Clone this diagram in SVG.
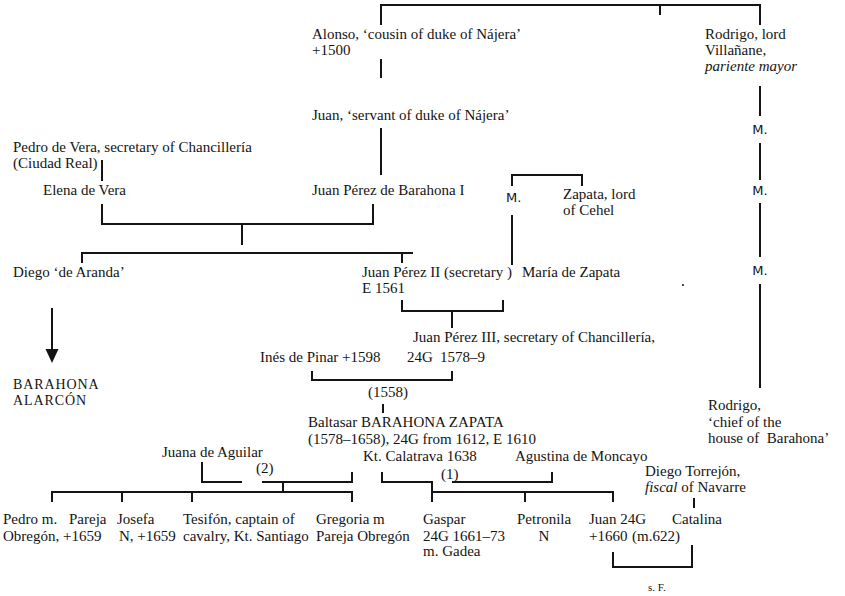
<svg xmlns="http://www.w3.org/2000/svg" width="845" height="596" viewBox="0 0 845 596">
<defs>
<style>
text{font-family:"Liberation Serif","Times New Roman",serif;font-size:15px;fill:#141414}
.it{font-style:italic}
.m{font-family:"DejaVu Sans","Liberation Sans",sans-serif;font-size:13px}
.caps{font-size:14px;letter-spacing:0.9px}
.sm{font-size:11px}
#links path{fill:none;stroke:#141414;stroke-width:2}
</style>
</defs>
<rect width="845" height="596" fill="#fff"/>

<!-- lines of descent and marriage -->
<g id="links">
<path d="M381,25V5H760V25M660,5V15"/>
<path d="M381,59V78"/>
<path d="M381,128V175"/>
<path d="M760,86V116M760,143V180M760,203V257M760,284V388"/>
<path d="M102,160V181"/>
<path d="M102,204V224H373V204M242,224V245"/>
<path d="M82,263V253H413M402,253V263"/>
<path d="M512,186V175H582V186"/>
<path d="M512,215V265"/>
<path d="M402,300V311H503V300M452,311V328"/>
<path d="M312,371V380H452V371"/>
<path d="M383,404V413"/>
<path d="M202,462V482H242M262,482H352V472M283,482V492"/>
<path d="M52,502V492H352V502M122,492V502M192,492V502"/>
<path d="M382,472V482H432V502M452,482H552V472"/>
<path d="M432,492H613V502M525,492V502"/>
<path d="M694,498V508"/>
<path d="M613,552V567H692V545"/>
<path d="M52,308V350"/>
<polygon points="45.5,349 58.5,349 52,363" fill="#141414"/>
</g>

<g id="alonso"><text x="312" y="39">Alonso, ‘cousin of duke of Nájera’</text><text x="312" y="55">+1500</text></g>
<g id="rodrigo-lord"><text x="705" y="39">Rodrigo, lord</text><text x="705" y="55">Villañane,</text><text x="705" y="71" class="it">pariente mayor</text></g>
<g id="juan-servant"><text x="312" y="120">Juan, ‘servant of duke of Nájera’</text></g>
<g id="m-line"><text class="m" x="760" y="134" text-anchor="middle">M.</text><text class="m" x="760" y="195" text-anchor="middle">M.</text><text class="m" x="760" y="275" text-anchor="middle">M.</text></g>
<g id="pedro-vera"><text x="13" y="152">Pedro de Vera, secretary of Chancillería</text><text x="13" y="168">(Ciudad Real)</text></g>
<g id="elena-vera"><text x="43" y="195">Elena de Vera</text></g>
<g id="juan-perez-1"><text x="312" y="195">Juan Pérez de Barahona I</text></g>
<g id="m-zapata"><text class="m" x="506" y="202">M.</text></g>
<g id="zapata-cehel"><text x="563" y="199">Zapata, lord</text><text x="563" y="215">of Cehel</text></g>
<g id="diego-aranda"><text x="13" y="277">Diego ‘de Aranda’</text></g>
<g id="juan-perez-2"><text x="362" y="277" xml:space="preserve">Juan Pérez II (secretary )</text><text x="362" y="293">E 1561</text></g>
<g id="maria-zapata"><text x="522" y="277">María de Zapata</text></g>
<circle cx="683" cy="285" r="1" fill="#141414"/>
<g id="barahona-alarcon"><text class="caps" x="13" y="389">BARAHONA</text><text class="caps" x="13" y="405">ALARCÓN</text></g>
<g id="juan-perez-3"><text x="413" y="342">Juan Pérez III, secretary of Chancillería,</text><text x="407" y="362">24G</text><text x="440" y="362">1578–9</text></g>
<g id="ines-pinar"><text x="260" y="362">Inés de Pinar +1598</text></g>
<text x="368" y="397">(1558)</text>
<g id="baltasar"><text x="308" y="427">Baltasar BARAHONA ZAPATA</text><text x="308" y="444">(1578–1658), 24G from 1612, E 1610</text><text x="363" y="461">Kt. Calatrava 1638</text></g>
<g id="agustina"><text x="515" y="461">Agustina de Moncayo</text></g>
<g id="juana"><text x="162" y="457">Juana de Aguilar</text></g>
<text x="256" y="473">(2)</text>
<text x="441" y="479">(1)</text>
<g id="pedro-pareja"><text x="3" y="524">Pedro m.</text><text x="69" y="524">Pareja</text><text x="3" y="541">Obregón, +1659</text></g>
<g id="josefa"><text x="117" y="524">Josefa</text><text x="119" y="541">N, +1659</text></g>
<g id="tesifon"><text x="183" y="524">Tesifón, captain of</text><text x="183" y="541">cavalry, Kt. Santiago</text></g>
<g id="gregoria"><text x="316" y="524">Gregoria m</text><text x="316" y="541">Pareja Obregón</text></g>
<g id="gaspar"><text x="423" y="524">Gaspar</text><text x="423" y="541">24G 1661–73</text><text x="423" y="556">m. Gadea</text></g>
<g id="petronila"><text x="517" y="524">Petronila</text><text x="544" y="541" text-anchor="middle">N</text></g>
<g id="juan-24g"><text x="589" y="524">Juan 24G</text><text x="589" y="541">+1660</text></g>
<g id="rodrigo-chief"><text x="708" y="410">Rodrigo,</text><text x="708" y="427">‘chief of the</text><text x="708" y="443" xml:space="preserve">house of  Barahona’</text></g>
<g id="diego-torrejon"><text x="645" y="476">Diego Torrejón,</text><text x="645" y="492"><tspan class="it">fiscal</tspan> of Navarre</text></g>
<g id="catalina"><text x="672" y="524">Catalina</text><text x="632" y="541">(m.622)</text></g>
<text class="sm" x="648" y="591">s. F.</text>
</svg>
